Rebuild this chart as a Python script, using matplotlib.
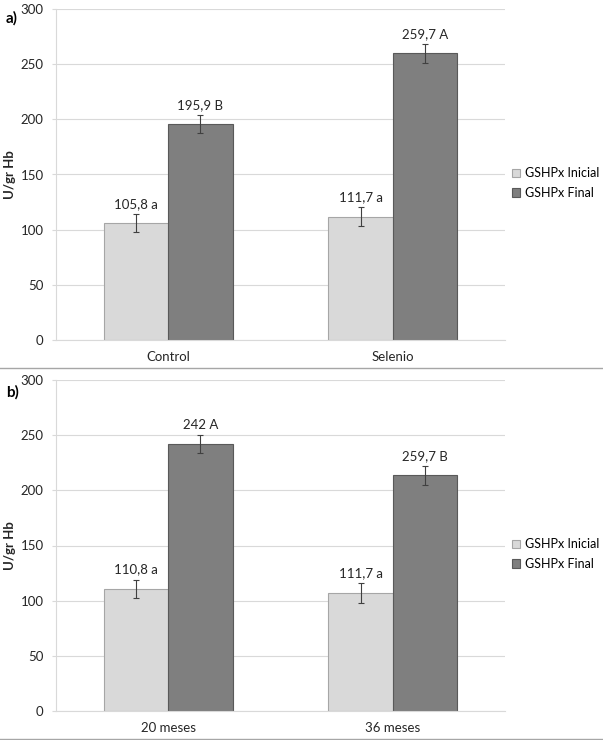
import matplotlib
matplotlib.use("Agg")
import matplotlib.pyplot as plt
from matplotlib.lines import Line2D
import numpy as np

plt.rcParams['font.family'] = ['Lato', 'DejaVu Sans']

# panel a)
cats_a = ['Control', 'Selenio']
ini_a = [105.8, 111.7]
fin_a = [195.9, 259.7]
ini_err_a = [8.2, 8.8]
fin_err_a = [8.0, 8.6]
ini_lab_a = ['105,8 a', '111,7 a']
fin_lab_a = ['195,9 B', '259,7 A']

# panel b)
cats_b = ['20 meses', '36 meses']
ini_b = [110.8, 106.8]
fin_b = [242.0, 213.6]
ini_err_b = [8.3, 9.0]
fin_err_b = [8.3, 8.6]
ini_lab_b = ['110,8 a', '111,7 a']
fin_lab_b = ['242 A', '259,7 B']

series_names = ['GSHPx Inicial', 'GSHPx Final']
yticks = [0, 50, 100, 150, 200, 250, 300]

W, H = 603, 740
fig = plt.figure(figsize=(W / 100, H / 100), dpi=100)


def panel(rect, cats, ini, fin, ini_err, fin_err, ini_lab, fin_lab):
    ax = fig.add_axes(rect)
    x = np.arange(len(cats))
    w = 0.287
    ax.bar(x - w / 2, ini, w, color='#d9d9d9', edgecolor='#a6a6a6', lw=0.8,
           label=series_names[0], zorder=2)
    ax.bar(x + w / 2, fin, w, color='#7f7f7f', edgecolor='#595959', lw=0.8,
           label=series_names[1], zorder=2)
    ax.errorbar(x - w / 2, ini, yerr=ini_err, fmt='none', ecolor='#404040',
                elinewidth=0.8, capsize=2, capthick=0.8, zorder=3)
    ax.errorbar(x + w / 2, fin, yerr=fin_err, fmt='none', ecolor='#404040',
                elinewidth=0.8, capsize=2, capthick=0.8, zorder=3)
    for xi, v, e, t in zip(x - w / 2, ini, ini_err, ini_lab):
        ax.annotate(t, (xi, v + e), xytext=(0, 3), textcoords='offset points',
                    ha='center', va='bottom', fontsize=9.5, color='#262626')
    for xi, v, e, t in zip(x + w / 2, fin, fin_err, fin_lab):
        ax.annotate(t, (xi, v + e), xytext=(0, 3), textcoords='offset points',
                    ha='center', va='bottom', fontsize=9.5, color='#262626')

    ax.set_xlim(-0.5, len(cats) - 0.5)
    ax.set_ylim(0, 300)
    ax.set_yticks(yticks)
    ax.set_xticks(x)
    ax.set_xticklabels(cats)
    ax.yaxis.grid(True, color='#d9d9d9', lw=0.8, zorder=0)
    ax.set_axisbelow(True)
    for s in ['top', 'right']:
        ax.spines[s].set_visible(False)
    ax.spines['left'].set_color('#d9d9d9')
    ax.spines['bottom'].set_color('#d9d9d9')
    ax.tick_params(axis='y', length=3, color='#d9d9d9', pad=6,
                   labelsize=9.5, labelcolor='#262626')
    ax.tick_params(axis='x', length=0, pad=8, labelsize=9.5, labelcolor='#262626')
    ax.set_ylabel('U/gr Hb', fontweight='bold', fontsize=9.5, color='#262626')
    ax.yaxis.set_label_coords(-0.088, 0.5)
    ax.legend(loc='center left', bbox_to_anchor=(1.015, 0.474), frameon=False,
              fontsize=9, handlelength=0.7, handleheight=0.7, handletextpad=0.4,
              labelspacing=0.6, borderpad=0, borderaxespad=0)
    return ax


left, right = 56 / W, 505 / W
panel([left, 1 - 340 / H, right - left, 331 / H], cats_a, ini_a, fin_a,
      ini_err_a, fin_err_a, ini_lab_a, fin_lab_a)
panel([left, 1 - 711 / H, right - left, 331 / H], cats_b, ini_b, fin_b,
      ini_err_b, fin_err_b, ini_lab_b, fin_lab_b)

fig.text(6 / W, 1 - 18 / H, 'a)', fontweight='bold', fontsize=11, va='center')
fig.text(6 / W, 1 - 392 / H, 'b)', fontweight='bold', fontsize=11, va='center')

fig.add_artist(Line2D([0, 1], [1 - 368 / H] * 2, color='#a6a6a6', lw=1))
fig.add_artist(Line2D([0, 1], [1 - 738.5 / H] * 2, color='#a6a6a6', lw=1))

fig.savefig('out.png', dpi=100)
